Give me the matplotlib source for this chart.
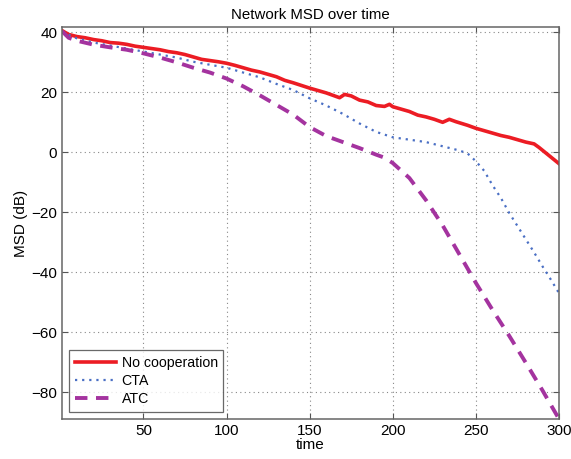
import numpy as np
import matplotlib
matplotlib.use("Agg")
import matplotlib.pyplot as plt

plt.rcParams['font.family'] = ['Liberation Sans', 'DejaVu Sans']

# values
t_red = [1, 5, 10, 15, 20, 25, 30, 35, 40, 45, 50, 55, 60, 65, 70, 75, 80, 85, 90, 95,
         100, 105, 110, 115, 120, 125, 130, 135, 140, 145, 150, 155, 160, 165, 168, 171,
         175, 180, 185, 190, 195, 198, 200, 205, 210, 215, 220, 225, 230, 234, 238,
         245, 250, 255, 260, 265, 270, 275, 280, 285, 288, 292, 296, 300]
msd_red = [40.6, 39.3, 38.6, 38.2, 37.6, 37.2, 36.6, 36.4, 36.0, 35.4, 35.0, 34.6, 34.2, 33.6,
           33.2, 32.6, 31.8, 31.0, 30.6, 30.2, 29.7, 29.0, 28.2, 27.4, 26.8, 26.0, 25.2, 24.0,
           23.2, 22.3, 21.4, 20.6, 19.8, 18.8, 18.2, 19.3, 18.8, 17.4, 16.8, 15.6, 15.3, 16.0,
           15.2, 14.4, 13.6, 12.4, 11.8, 11.0, 10.0, 11.0, 10.2, 9.0, 8.0, 7.2, 6.4, 5.6, 5.0,
           4.2, 3.4, 2.8, 1.6, -0.2, -2.0, -3.8]

t_cta = [1, 10, 20, 30, 40, 50, 60, 70, 80, 90, 100, 110, 120, 130, 140, 150, 160, 170,
         180, 190, 200, 210, 220, 230, 240, 245, 250, 255, 260, 265, 270, 275, 280, 285,
         290, 295, 300]
msd_cta = [40.2, 38.0, 36.6, 35.6, 34.6, 33.6, 32.6, 31.6, 30.2, 29.2, 28.2, 26.6, 25.0,
           22.8, 20.8, 18.0, 15.6, 12.8, 9.6, 6.8, 5.0, 4.2, 3.4, 2.0, 0.6, -0.4, -3.0, -6.2,
           -11.0, -15.2, -20.2, -24.6, -29.0, -33.4, -38.0, -42.4, -47.0]

t_atc = [1, 5, 10, 20, 30, 40, 50, 60, 70, 80, 90, 100, 110, 120, 130, 140, 150, 160, 170,
         180, 190, 195, 200, 210, 220, 230, 240, 250, 260, 270, 280, 290, 300]
msd_atc = [40.4, 38.2, 37.2, 35.9, 35.0, 34.2, 33.0, 31.6, 30.0, 28.2, 26.6, 24.6, 22.0,
           19.0, 15.8, 12.6, 8.4, 5.4, 3.4, 1.4, -0.8, -1.8, -3.6, -8.6, -16.0, -24.4, -34.0,
           -43.6, -52.6, -61.2, -70.2, -79.4, -89.0]

x_ticks = [50, 100, 150, 200, 250, 300]
y_ticks = [-80, -60, -40, -20, 0, 20, 40]

fig = plt.figure(figsize=(5.71, 4.59), dpi=100)
ax = fig.add_axes([0.1086, 0.0871, 0.8704, 0.8541])

ax.plot(t_red, msd_red, color='#ec1c24', lw=2.6, label='No cooperation')
ax.plot(t_cta, msd_cta, color='#4a6fc4', lw=1.6, ls=(0, (1, 2.2)), label='CTA')
ax.plot(t_atc, msd_atc, color='#a4339f', lw=2.8, ls=(0, (3.2, 2.2)), label='ATC')

ax.set_xlim(1, 300)
ax.set_ylim(-89, 41.8)
ax.set_xticks(x_ticks)
ax.set_yticks(y_ticks)
ax.grid(True, ls=(0, (1, 3)), color='#888888', lw=0.8)
ax.tick_params(direction='in', top=True, right=True, labelsize=11, length=4,
               color='#555555')
for s in ax.spines.values():
    s.set_color('#666666')
    s.set_linewidth(1.1)

ax.set_title('Network MSD over time', fontsize=10.8, pad=6)
ax.set_xlabel('time', fontsize=11, labelpad=0)
ax.set_ylabel('MSD (dB)', fontsize=11, labelpad=2)

leg = ax.legend(loc='lower left', fontsize=10.2, fancybox=False, edgecolor='#444444',
                handlelength=2.9, borderaxespad=0.5, labelspacing=0.3, handletextpad=0.4)
leg.get_frame().set_linewidth(0.9)

fig.savefig('out.png', dpi=100)
